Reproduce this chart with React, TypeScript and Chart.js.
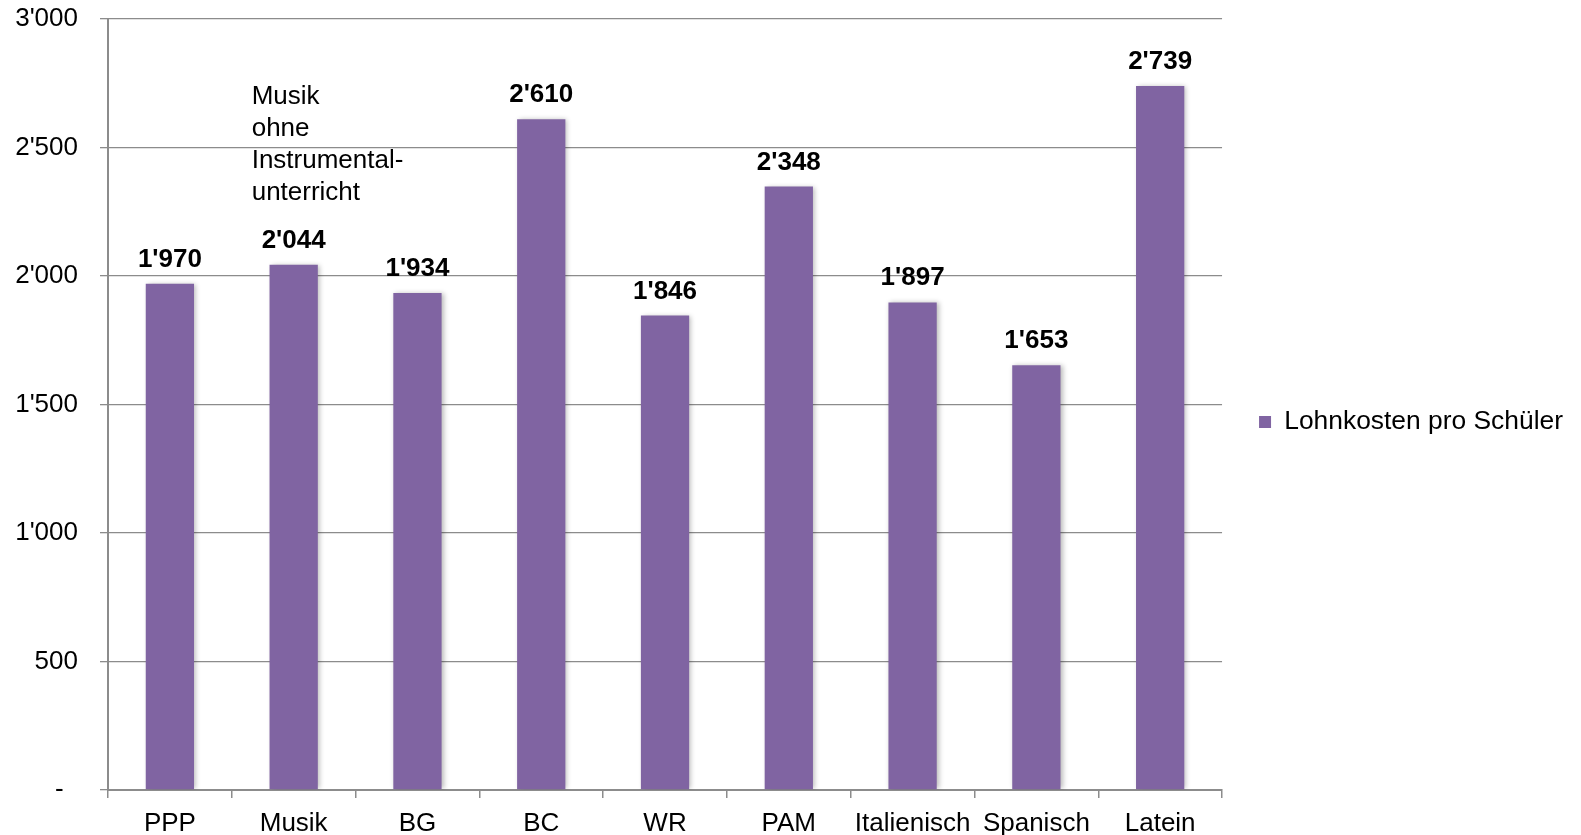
import React, { useEffect, useRef } from "react";
import { Chart, registerables } from "chart.js";

Chart.register(...registerables);

const categories = ["PPP", "Musik", "BG", "BC", "WR", "PAM", "Italienisch", "Spanisch", "Latein"];
const lohnkosten = [1970, 2044, 1934, 2610, 1846, 2348, 1897, 1653, 2739];
const seriesName = "Lohnkosten pro Schüler";
const yTickValues = [0, 500, 1000, 1500, 2000, 2500, 3000];
const annotationLines = ["Musik", "ohne", "Instrumental-", "unterricht"];

const FONT = "'Liberation Sans', Arial, Helvetica, sans-serif";
const GRID = "#8c8c8c";
const BAR = "#8064A2";

const fmt = (v: number) =>
  v === 0 ? "-  " : String(Math.round(v)).replace(/\B(?=(\d{3})+(?!\d))/g, "'");

const barShadow = {
  id: "barShadow",
  beforeDatasetsDraw(chart: any) {
    const c = chart.ctx;
    c.save();
    c.shadowColor = "rgba(0,0,0,0.28)";
    c.shadowBlur = 5;
    c.shadowOffsetX = 2;
    c.shadowOffsetY = 0;
  },
  afterDatasetsDraw(chart: any) {
    chart.ctx.restore();
  },
};

const valueLabels = {
  id: "valueLabels",
  afterDatasetsDraw(chart: any) {
    const c = chart.ctx;
    c.save();
    c.font = `bold 26px ${FONT}`;
    c.fillStyle = "#000";
    c.textAlign = "center";
    c.textBaseline = "alphabetic";
    chart.data.datasets.forEach((ds: any, di: number) => {
      const meta = chart.getDatasetMeta(di);
      meta.data.forEach((el: any, i: number) => {
        c.fillText(fmt(ds.data[i]), el.x, el.y - 17);
      });
    });
    c.restore();
  },
};

const annotation = {
  id: "annotation",
  afterDraw(chart: any) {
    const c = chart.ctx;
    const xs = chart.scales.x;
    const ys = chart.scales.y;
    const x0 = xs.getPixelForValue(1) - 42;
    const y0 = ys.top + 85;
    c.save();
    c.font = `26px ${FONT}`;
    c.fillStyle = "#000";
    c.textAlign = "left";
    c.textBaseline = "alphabetic";
    annotationLines.forEach((t, i) => c.fillText(t, x0, y0 + i * 32));
    c.restore();
  },
};

export default function App() {
  const ref = useRef<HTMLCanvasElement>(null);
  useEffect(() => {
    if (!ref.current) return;
    Chart.defaults.font.family = FONT;
    Chart.defaults.font.size = 26;
    Chart.defaults.color = "#000";
    const chart = new Chart(ref.current, {
      type: "bar",
      data: {
        labels: categories,
        datasets: [
          {
            label: seriesName,
            data: lohnkosten,
            backgroundColor: BAR,
            borderWidth: 0,
            barPercentage: 0.39,
            categoryPercentage: 1,
          },
        ],
      },
      options: {
        animation: false,
        responsive: false,
        layout: { padding: { top: 9, right: 8, bottom: 0, left: 0 } },
        plugins: {
          tooltip: { enabled: false },
          legend: {
            position: "right",
            labels: {
              boxWidth: 12,
              boxHeight: 12,
              padding: 37,
              color: "#000",
              font: { size: 26.4, family: FONT },
            },
          },
        },
        scales: {
          x: {
            grid: {
              display: true,
              drawOnChartArea: false,
              drawTicks: true,
              tickLength: 8,
              color: GRID,
              lineWidth: 1.5,
              offset: true,
            },
            border: { display: true, color: GRID, width: 2 },
            ticks: {
              color: "#000",
              font: { size: 26, family: FONT },
              padding: 10,
              maxRotation: 0,
              autoSkip: false,
            },
            afterFit: (s: any) => {
              s.height = 45;
            },
          },
          y: {
            min: 0,
            max: 3000,
            grid: { color: GRID, lineWidth: 1.3, tickLength: 8, drawTicks: true },
            border: { display: true, color: GRID, width: 2 },
            ticks: {
              color: "#000",
              font: { size: 26, family: FONT },
              padding: 22,
              stepSize: 500,
              callback: (v: any) => fmt(Number(v)),
            },
            afterBuildTicks: (s: any) => {
              s.ticks = yTickValues.map((v) => ({ value: v }));
            },
            afterFit: (s: any) => {
              s.width = 108;
              s.paddingTop = 19;
              s.paddingBottom = 0;
            },
          },
        },
      },
      plugins: [barShadow, valueLabels, annotation],
    });
    return () => chart.destroy();
  }, []);
  return (
    <div style={{ position: "fixed", left: 0, top: 0, width: 1581, height: 835, background: "#fff" }}>
      <canvas ref={ref} width={1581} height={835} style={{ display: "block" }} />
    </div>
  );
}
